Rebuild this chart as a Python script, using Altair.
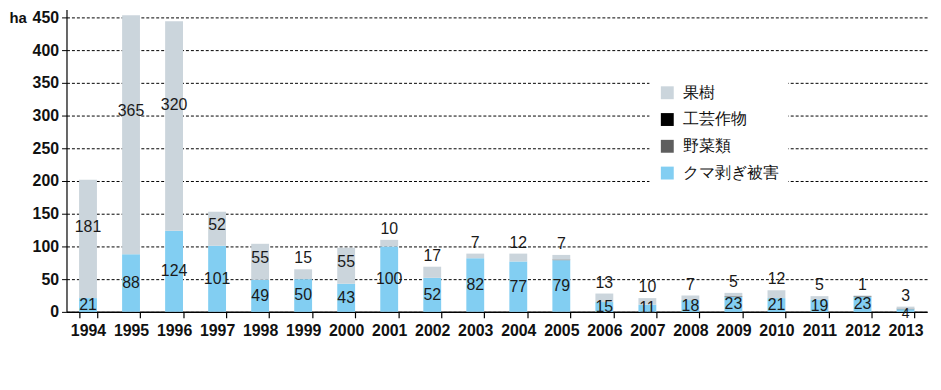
import altair as alt
import pandas as pd

years = ["1994", "1995", "1996", "1997", "1998", "1999", "2000", "2001", "2002", "2003",
         "2004", "2005", "2006", "2007", "2008", "2009", "2010", "2011", "2012", "2013"]
bear = [21, 88, 124, 101, 49, 50, 43, 100, 52, 82, 77, 79, 15, 11, 18, 23, 21, 19, 23, 4]
vegetables = [0, 0, 0, 0, 0, 0, 0, 0, 0, 0, 0, 1, 0, 0, 0, 1, 0, 0, 1, 1]
industrial = [0, 0, 0, 0, 0, 0, 0, 0, 0, 0, 0, 0, 0, 0, 0, 0, 0, 0, 0, 0]
fruit = [181, 365, 320, 52, 55, 15, 55, 10, 17, 7, 12, 7, 13, 10, 7, 5, 12, 5, 1, 3]

series_names = ["果樹", "工芸作物", "野菜類", "クマ剥ぎ被害"]
series_colors = ["#cbd5dc", "#000000", "#5e5e5e", "#82cef2"]
y_ticks = [0, 50, 100, 150, 200, 250, 300, 350, 400, 450]

FONT = "Liberation Sans"

rows = []
for i, yr in enumerate(years):
    rows.append({"year": yr, "series": "クマ剥ぎ被害", "value": bear[i], "ord": 0})
    rows.append({"year": yr, "series": "野菜類", "value": vegetables[i], "ord": 1})
    rows.append({"year": yr, "series": "工芸作物", "value": industrial[i], "ord": 2})
    rows.append({"year": yr, "series": "果樹", "value": fruit[i], "ord": 3})
df = pd.DataFrame(rows)

lab = pd.DataFrame({"year": years, "bear": bear, "fruit": fruit})
lab["base"] = [b + v + d for b, v, d in zip(bear, vegetables, industrial)]
lab["total"] = lab["base"] + lab["fruit"]
lab["bear_y"] = lab["bear"] / 2
lab["zero"] = 0
lab["fruit_y_big"] = lab["base"] + lab["fruit"] * 0.6
big = lab[lab["fruit"] >= 40]
small = lab[lab["fruit"] < 40]
bear_norm = lab[lab["bear"] >= 10]
bear_tiny = lab[lab["bear"] < 10]

x_scale = alt.Scale(paddingInner=0.585, paddingOuter=0.2925)
x_axis = alt.Axis(
    title=None, labelAngle=0, tickBand="extent", domainColor="#000", domainWidth=1.5,
    tickColor="#000", tickSize=6, tickWidth=1.2, labelFont=FONT, labelFontSize=16,
    labelFontWeight="bold", labelColor="#111", labelPadding=5,
)
y_scale = alt.Scale(domain=[0, 462], nice=False)
y_axis = alt.Axis(
    values=y_ticks, grid=True, gridColor="#000", gridDash=[3, 2], gridWidth=1,
    domainColor="#000", domainWidth=1.2, tickColor="#000", tickSize=5,
    labelFont=FONT, labelFontSize=16, labelFontWeight="bold", labelColor="#111",
    labelPadding=3, labelOverlap=False,
    title="ha", titleAngle=0, titleX=-58, titleY=8, titleAlign="left",
    titleBaseline="middle", titleFont=FONT, titleFontSize=15, titleFontWeight="bold",
    titleColor="#111",
)


def xe():
    return alt.X("year:N", sort=years, scale=x_scale, axis=x_axis)


def ye(field, **kw):
    return alt.Y(field, scale=y_scale, axis=y_axis, **kw)


bars = alt.Chart(df).mark_bar().encode(
    x=xe(),
    y=ye("value:Q", stack="zero"),
    color=alt.Color(
        "series:N",
        scale=alt.Scale(domain=series_names, range=series_colors),
        legend=alt.Legend(
            title=None, orient="none", legendX=588, legendY=66, fillColor="white",
            padding=10, symbolType="square", symbolSize=169, symbolStrokeWidth=0,
            labelFont=FONT, labelFontSize=16, labelColor="#111", rowPadding=11,
            labelOffset=8,
        ),
    ),
    order=alt.Order("ord:Q"),
)

text_style = dict(font=FONT, color="#1a1a1a")

t_bear = alt.Chart(bear_norm).mark_text(baseline="middle", fontSize=16, **text_style).encode(
    x=xe(), y=ye("bear_y:Q"), text="bear:Q"
)
t_bear_tiny = alt.Chart(bear_tiny).mark_text(baseline="middle", dy=2, fontSize=14, **text_style).encode(
    x=xe(), y=ye("zero:Q"), text="bear:Q"
)
t_big = alt.Chart(big).mark_text(baseline="middle", fontSize=16, **text_style).encode(
    x=xe(), y=ye("fruit_y_big:Q"), text="fruit:Q"
)
t_small = alt.Chart(small).mark_text(baseline="bottom", dy=-3, fontSize=16, **text_style).encode(
    x=xe(), y=ye("total:Q"), text="fruit:Q"
)

chart = alt.layer(bars, t_bear, t_bear_tiny, t_big, t_small).properties(
    width=868, height=305,
    autosize=alt.AutoSizeParams(type="none"),
    padding={"left": 59, "top": 0, "right": 6, "bottom": 40},
).configure_view(stroke=None)

chart.save("out.html", embed_options={"renderer": "svg", "actions": False})
